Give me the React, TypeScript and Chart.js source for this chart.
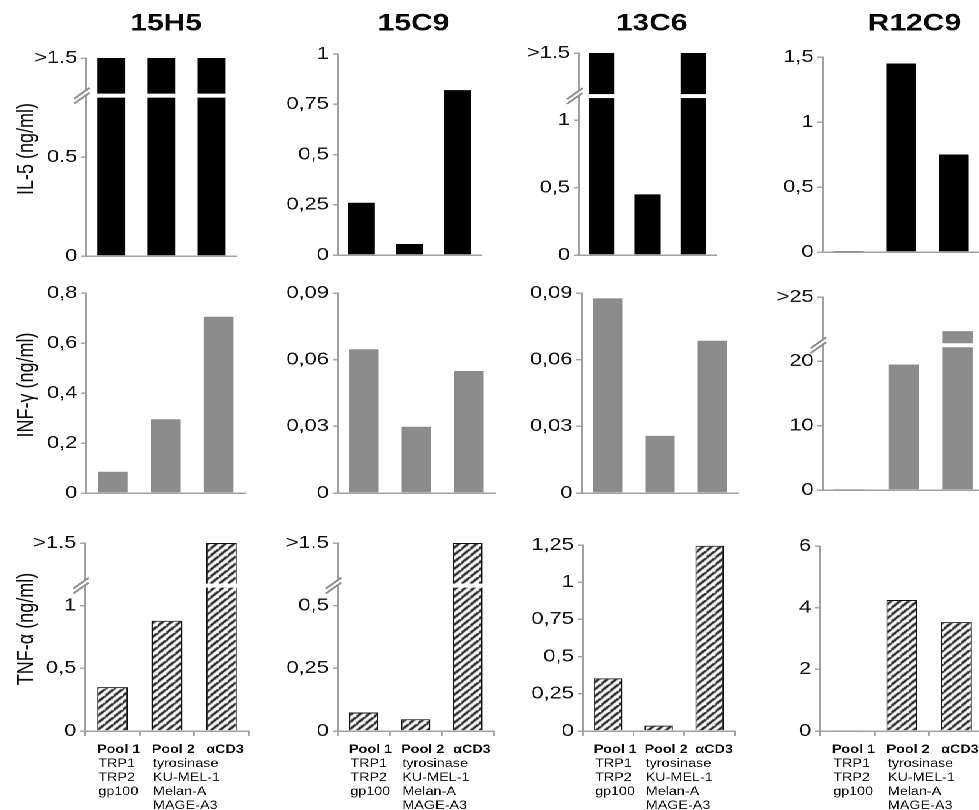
import React, { useEffect, useRef } from 'react';
import { Chart, registerables } from 'chart.js';

Chart.register(...registerables);

// ---------------- DATA ----------------
const categories = ['Pool 1', 'Pool 2', 'αCD3'];
const categoryDetails = [
  ['TRP1', 'TRP2', 'gp100'],
  ['tyrosinase', 'KU-MEL-1', 'Melan-A', 'MAGE-A3'],
  [],
];
const clones = ['15H5', '15C9', '13C6', 'R12C9'];
const cytokines = ['IL-5 (ng/ml)', 'INF-γ (ng/ml)', 'TNF-α (ng/ml)'];

// IL-5 (values in axis units; top of broken axes = ">1.5")
const il5_15H5 = [1, 1, 1];
const il5_15C9 = [0.26, 0.055, 0.82];
const il5_13C6 = [1.5, 0.45, 1.5];
const il5_R12C9 = [0.008, 1.45, 0.75];

// INF-γ
const ifn_15H5 = [0.085, 0.295, 0.705];
const ifn_15C9 = [0.0647, 0.0298, 0.0549];
const ifn_13C6 = [0.0876, 0.0257, 0.0685];
const ifn_R12C9 = [0.15, 19.5, 24.7];

// TNF-α
const tnf_15H5 = [0.35, 0.88, 1.5];
const tnf_15C9 = [0.074, 0.047, 0.75];
const tnf_13C6 = [0.354, 0.036, 1.245];
const tnf_R12C9 = [0.03, 4.25, 3.53];

// Tick labels
const il5Ticks_15H5 = ['0', '0.5', '>1.5'];
const il5Ticks_15C9 = ['0', '0,25', '0,5', '0,75', '1'];
const il5Ticks_13C6 = ['0', '0,5', '1', '>1.5'];
const il5Ticks_R12C9 = ['0', '0,5', '1', '1,5'];
const ifnTicks_15H5 = ['0', '0,2', '0,4', '0,6', '0,8'];
const ifnTicks_15C9 = ['0', '0,03', '0,06', '0,09'];
const ifnTicks_13C6 = ['0', '0,03', '0,06', '0,09'];
const ifnTicks_R12C9 = ['0', '10', '20', '>25'];
const tnfTicks_15H5 = ['0', '0,5', '1', '>1.5'];
const tnfTicks_15C9 = ['0', '0,25', '0,5', '>1.5'];
const tnfTicks_13C6 = ['0', '0,25', '0,5', '0,75', '1', '1,25'];
const tnfTicks_R12C9 = ['0', '2', '4', '6'];

// Axis ranges [max, step]
const il5Range = [[1, 0.5], [1, 0.25], [1.5, 0.5], [1.5, 0.5]];
const ifnRange = [[0.8, 0.2], [0.09, 0.03], [0.09, 0.03], [30, 10]];
const tnfRange = [[1.5, 0.5], [0.75, 0.25], [1.25, 0.25], [6, 2]];

// Axis break positions (axis units), null = no break
const il5Breaks = [0.81, null, 1.18, null];
const ifnBreaks = [null, null, null, 22.5];
const tnfBreaks = [1.16, 0.58, null, null];

const rowValues = [
  [il5_15H5, il5_15C9, il5_13C6, il5_R12C9],
  [ifn_15H5, ifn_15C9, ifn_13C6, ifn_R12C9],
  [tnf_15H5, tnf_15C9, tnf_13C6, tnf_R12C9],
];
const rowTicks = [
  [il5Ticks_15H5, il5Ticks_15C9, il5Ticks_13C6, il5Ticks_R12C9],
  [ifnTicks_15H5, ifnTicks_15C9, ifnTicks_13C6, ifnTicks_R12C9],
  [tnfTicks_15H5, tnfTicks_15C9, tnfTicks_13C6, tnfTicks_R12C9],
];
const rowRanges = [il5Range, ifnRange, tnfRange];
const rowBreaks = [il5Breaks, ifnBreaks, tnfBreaks];

// ---------------- LAYOUT / STYLE ----------------
const FONT = '"Liberation Sans", Arial, Helvetica, sans-serif';
const S = 1.25; // horizontal stretch of the whole figure
const AXIS = '#a0a0a0';
const PAGE_W = 979;
const PAGE_H = 810;

// plot rectangles in page pixels: [left, top, right, bottom]
const plotRects = [
  [[86, 58, 236, 256], [338, 54, 482, 255], [579, 53, 717, 255], [822, 57, 980, 252]],
  [[86, 293, 245, 493], [338, 293, 495, 493], [581, 293, 738, 493], [823, 297, 985, 490]],
  [[85, 543, 249, 731], [338, 543, 494, 731], [582, 545, 735, 731], [820, 546, 984, 731]],
];
const titleCenters = [166, 414, 652, 914];
const TITLE_Y = 24;
const YTITLE_X = 27;

let hatchPattern: CanvasPattern | null = null;
function getHatch(ctx: CanvasRenderingContext2D) {
  if (hatchPattern) return hatchPattern;
  const s = 7; // pattern drawn at 2x (device pixel ratio 2)
  const c = document.createElement('canvas');
  c.width = s;
  c.height = s;
  const g = c.getContext('2d')!;
  g.fillStyle = '#ffffff';
  g.fillRect(0, 0, s, s);
  g.strokeStyle = '#1a1a1a';
  g.lineWidth = 2.0;
  g.beginPath();
  g.moveTo(-1, s + 1);
  g.lineTo(s + 1, -1);
  g.moveTo(-1 - s, s + 1);
  g.lineTo(1, -1);
  g.moveTo(s - 1, 2 * s + 1);
  g.lineTo(2 * s + 1, s - 1);
  g.stroke();
  hatchPattern = ctx.createPattern(c, 'repeat');
  return hatchPattern;
}

const decorPlugin = {
  id: 'decor',
  afterDatasetsDraw(chart: any, _args: any, o: any) {
    if (o.breakAt == null) return;
    const ctx = chart.ctx;
    const by = chart.scales.y.getPixelForValue(o.breakAt);
    const data = chart.data.datasets[0].data;
    ctx.save();
    ctx.fillStyle = '#ffffff';
    chart.getDatasetMeta(0).data.forEach((bar: any, i: number) => {
      if (data[i] > o.breakAt) {
        ctx.fillRect(bar.x - bar.width / 2 - 1.5, by - 2, bar.width + 3, 4);
      }
    });
    ctx.restore();
  },
  afterDraw(chart: any, _args: any, o: any) {
    const ctx = chart.ctx;
    const area = chart.chartArea;
    ctx.save();
    if (o.breakAt != null) {
      const ax = area.left;
      const by = chart.scales.y.getPixelForValue(o.breakAt);
      const x1 = ax - 9.5;
      const x2 = ax + 3;
      const d = 5.5;
      const g = 2.4;
      ctx.fillStyle = '#ffffff';
      ctx.beginPath();
      ctx.moveTo(x1, by + d - g);
      ctx.lineTo(x2, by - d - g);
      ctx.lineTo(x2, by - d + g);
      ctx.lineTo(x1, by + d + g);
      ctx.closePath();
      ctx.fill();
      ctx.strokeStyle = '#909090';
      ctx.lineWidth = 1.8;
      for (const s of [-g, g]) {
        ctx.beginPath();
        ctx.moveTo(x1, by + d + s);
        ctx.lineTo(x2, by - d + s);
        ctx.stroke();
      }
    }
    if (o.title) {
      ctx.fillStyle = '#0a0a0a';
      ctx.font = `bold 24px ${FONT}`;
      ctx.textAlign = 'center';
      ctx.textBaseline = 'middle';
      ctx.fillText(o.title, o.titleX, o.titleY);
    }
    if (o.yTitle) {
      ctx.save();
      ctx.translate(o.yTitleX, (area.top + area.bottom) / 2 - 8);
      ctx.rotate(-Math.PI / 2);
      ctx.fillStyle = '#0a0a0a';
      ctx.font = `18px ${FONT}`;
      ctx.textAlign = 'center';
      ctx.textBaseline = 'middle';
      ctx.fillText(o.yTitle, 0, 0);
      ctx.restore();
    }
    if (o.catLabels) {
      ctx.fillStyle = '#0a0a0a';
      ctx.textAlign = 'left';
      ctx.textBaseline = 'middle';
      chart.getDatasetMeta(0).data.forEach((bar: any, i: number) => {
        const left = bar.x - bar.width / 2;
        const y0 = area.bottom + 19;
        ctx.font = `bold 11.5px ${FONT}`;
        ctx.fillText(categories[i], left, y0);
        ctx.font = `11.5px ${FONT}`;
        categoryDetails[i].forEach((t: string, k: number) => {
          ctx.fillText(t, left + 1, y0 + 14 * (k + 1));
        });
      });
    }
    ctx.restore();
  },
};

function Panel({ row, col }: { row: number; col: number }) {
  const ref = useRef<HTMLCanvasElement>(null);
  const [L, T, R, B] = plotRects[row][col];
  const plotL = L / S;
  const plotR = R / S;
  const yW = col === 0 ? plotL : 62;
  const canvasLeft = plotL - yW;
  const padTop = row === 0 ? T : 22;
  const canvasTop = T - padTop;
  const xH = row === 2 ? PAGE_H - B : 16;
  const padRight = 4;
  const width = Math.round(yW + (plotR - plotL) + padRight);
  const height = Math.round(padTop + (B - T) + xH);

  useEffect(() => {
    const canvas = ref.current!;
    const ctx = canvas.getContext('2d')!;
    const [max, step] = rowRanges[row][col];
    const labels = rowTicks[row][col];
    const fill =
      row === 0 ? '#000000' : row === 1 ? '#8c8c8c' : (getHatch(ctx) as any);
    const chart = new Chart(canvas, {
      type: 'bar',
      data: {
        labels: categories,
        datasets: [
          {
            data: rowValues[row][col],
            backgroundColor: fill,
            borderColor: row === 2 ? '#111111' : 'rgba(0,0,0,0)',
            borderWidth: row === 2 ? 1 : 0,
            barPercentage: 0.56,
            categoryPercentage: 1,
          },
        ],
      },
      options: {
        responsive: false,
        maintainAspectRatio: false,
        animation: false,
        devicePixelRatio: 2,
        layout: { padding: { top: padTop, right: padRight, left: 0, bottom: 0 } },
        plugins: {
          legend: { display: false },
          tooltip: { enabled: false },
          title: { display: false },
          decor: {
            breakAt: rowBreaks[row][col],
            title: row === 0 ? clones[col] : null,
            titleX: titleCenters[col] / S - canvasLeft,
            titleY: TITLE_Y - canvasTop,
            yTitle: col === 0 ? cytokines[row] : null,
            yTitleX: YTITLE_X / S - canvasLeft,
            catLabels: row === 2,
          },
        } as any,
        scales: {
          x: {
            type: 'category',
            offset: true,
            ticks: { display: false },
            grid:
              row === 2
                ? {
                    display: true,
                    drawOnChartArea: false,
                    drawTicks: true,
                    tickLength: 5,
                    color: AXIS,
                    lineWidth: 1.4,
                    offset: true,
                  }
                : { display: false },
            border: { display: true, color: AXIS, width: 1.5 },
            afterFit: (s: any) => {
              s.height = xH;
            },
          },
          y: {
            min: 0,
            max,
            ticks: {
              stepSize: step,
              autoSkip: false,
              padding: 3,
              color: '#111111',
              font: { family: FONT, size: 17.5 },
              callback: (v: any) => labels[Math.round(Number(v) / step)] ?? '',
            },
            grid: {
              display: true,
              drawOnChartArea: false,
              drawTicks: true,
              tickLength: 4,
              color: AXIS,
              lineWidth: 1.4,
            },
            border: { display: true, color: AXIS, width: 1.5 },
            afterFit: (s: any) => {
              s.width = yW;
            },
          },
        },
      },
      plugins: [decorPlugin],
    });
    return () => chart.destroy();
  }, [row, col]);

  return (
    <div
      style={{
        position: 'absolute',
        left: canvasLeft,
        top: canvasTop,
        width,
        height,
      }}
    >
      <canvas ref={ref} width={width} height={height} style={{ width, height, display: 'block' }} />
    </div>
  );
}

export default function App() {
  const cells: React.ReactNode[] = [];
  for (let r = 0; r < 3; r++) {
    for (let c = 0; c < 4; c++) {
      cells.push(<Panel key={`${r}-${c}`} row={r} col={c} />);
    }
  }
  return (
    <div
      style={{
        position: 'fixed',
        left: 0,
        top: 0,
        width: PAGE_W,
        height: PAGE_H,
        overflow: 'hidden',
        background: '#ffffff',
      }}
    >
      <div
        style={{
          position: 'absolute',
          left: 0,
          top: 0,
          width: PAGE_W / S,
          height: PAGE_H,
          transform: `scaleX(${S})`,
          transformOrigin: '0 0',
        }}
      >
        {cells}
      </div>
    </div>
  );
}
